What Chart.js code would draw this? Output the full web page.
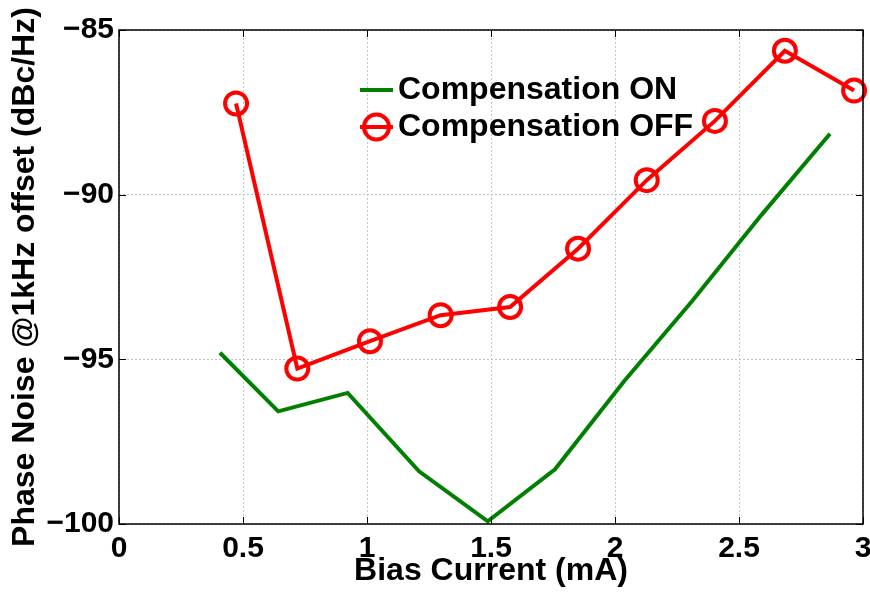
<!DOCTYPE html>
<html>
<head>
<meta charset="utf-8">
<script src="https://cdn.jsdelivr.net/npm/chart.js@4.4.1/dist/chart.umd.min.js"></script>
<style>
  html, body { margin: 0; padding: 0; background: #fff; }
  #grafica { display: block; }
</style>
</head>
<body>
<canvas id="grafica" width="870" height="596"></canvas>
<script>
// --- DATOS ---
const xOn  = [0.407, 0.642, 0.922, 1.210, 1.487, 1.758, 2.035, 2.312, 2.590, 2.867];
const yOn  = [-94.80, -96.58, -96.02, -98.40, -99.92, -98.34, -95.68, -93.22, -90.62, -88.15];
const xOff = [0.472, 0.719, 1.012, 1.297, 1.577, 1.851, 2.128, 2.403, 2.685, 2.964];
const yOff = [-87.23, -95.28, -94.45, -93.66, -93.41, -91.64, -89.56, -87.76, -85.63, -86.84];

const xTicks = [0, 0.5, 1, 1.5, 2, 2.5, 3];
const yTicks = [-100, -95, -90, -85];

const labelOn = "Compensation ON";
const labelOff = "Compensation OFF";
const xTitle = "Bias Current (mA)";
const yTitle = "Phase Noise @1kHz offset (dBc/Hz)";

const FONT = "'Liberation Sans', Arial, sans-serif";
const VERDE = "#008000";
const ROJO = "#ff0000";

function puntos(xs, ys) {
    return xs.map((x, i) => ({ x: x, y: ys[i] }));
}

// --- SIN RELLENO EXTRA POR LAS ETIQUETAS DE LOS EXTREMOS ---
const sinPaddingPlugin = {
    id: "sinPadding",
    beforeLayout(chart) {
        Object.values(chart.scales).forEach(s => {
            s.getPadding = () => ({ left: 0, top: 0, right: 0, bottom: 0 });
        });
    }
};

// --- CAJA Y MARCAS (estilo MATLAB) ---
const cajaPlugin = {
    id: "caja",
    afterDraw(chart) {
        const { ctx, chartArea: a, scales } = chart;
        ctx.save();
        ctx.strokeStyle = "#000";
        ctx.lineWidth = 1.5;
        ctx.strokeRect(a.left, a.top, a.right - a.left, a.bottom - a.top);
        const L = 7;
        ctx.lineWidth = 1;
        ctx.beginPath();
        xTicks.forEach(v => {
            const px = Math.round(scales.x.getPixelForValue(v)) + 0.5;
            ctx.moveTo(px, a.bottom); ctx.lineTo(px, a.bottom - L);
            ctx.moveTo(px, a.top); ctx.lineTo(px, a.top + L);
        });
        yTicks.forEach(v => {
            const py = Math.round(scales.y.getPixelForValue(v)) + 0.5;
            ctx.moveTo(a.left, py); ctx.lineTo(a.left + L, py);
            ctx.moveTo(a.right, py); ctx.lineTo(a.right - L, py);
        });
        ctx.stroke();
        ctx.restore();
    }
};

// --- LEYENDA DENTRO DEL GRÁFICO ---
const leyendaPlugin = {
    id: "leyendaDentro",
    afterDraw(chart) {
        const ctx = chart.ctx;
        const x0 = 360, x1 = 393, xt = 398;
        const filas = [
            { y: 90, ds: chart.data.datasets[0] },
            { y: 127, ds: chart.data.datasets[1] }
        ];
        ctx.save();
        filas.forEach(f => {
            ctx.strokeStyle = f.ds.borderColor;
            ctx.lineWidth = 4;
            ctx.beginPath();
            ctx.moveTo(x0, f.y); ctx.lineTo(x1, f.y);
            ctx.stroke();
            if (f.ds.pointRadius > 0) {
                ctx.beginPath();
                ctx.arc((x0 + x1) / 2, f.y, 12.5, 0, Math.PI * 2);
                ctx.stroke();
            }
            ctx.fillStyle = "#000";
            ctx.font = "bold 32px " + FONT;
            ctx.textBaseline = "middle";
            ctx.textAlign = "left";
            ctx.fillText(f.ds.label, xt, f.y);
        });
        ctx.restore();
    }
};

const menos = v => String(v).replace("-", "\u2212");

new Chart(document.getElementById("grafica"), {
    type: "line",
    data: {
        datasets: [{
            label: labelOn,
            data: puntos(xOn, yOn),
            borderColor: VERDE,
            backgroundColor: VERDE,
            borderWidth: 4,
            pointRadius: 0,
            tension: 0,
            clip: false
        }, {
            label: labelOff,
            data: puntos(xOff, yOff),
            borderColor: ROJO,
            backgroundColor: "rgba(0,0,0,0)",
            borderWidth: 4,
            pointRadius: 11,
            pointBorderWidth: 4,
            pointBorderColor: ROJO,
            pointBackgroundColor: "rgba(0,0,0,0)",
            tension: 0,
            clip: false
        }]
    },
    options: {
        responsive: false,
        animation: false,
        devicePixelRatio: 1,
        layout: { autoPadding: false, padding: { left: 6, right: 7, top: 30, bottom: 6 } },
        plugins: {
            legend: { display: false },
            tooltip: { enabled: false }
        },
        scales: {
            x: {
                type: "linear",
                min: 0, max: 3,
                afterBuildTicks: s => { s.ticks = xTicks.map(v => ({ value: v })); },
                afterFit: s => { s.height = 66; },
                grid: { color: "#c4c4c4", drawTicks: false, lineWidth: 1 },
                border: { display: false, dash: [2, 2] },
                ticks: {
                    padding: 7,
                    color: "#000",
                    font: { family: FONT, size: 30, weight: "bold" },
                    callback: v => menos(v),
                    maxRotation: 0
                },
                title: {
                    display: true,
                    text: xTitle,
                    color: "#000",
                    font: { family: FONT, size: 32, weight: "bold", lineHeight: 1.2 },
                    padding: 0
                }
            },
            y: {
                type: "linear",
                min: -100, max: -85,
                afterBuildTicks: s => { s.ticks = yTicks.map(v => ({ value: v })); },
                afterFit: s => { s.width = 113; },
                grid: { color: "#c4c4c4", drawTicks: false, lineWidth: 1 },
                border: { display: false, dash: [2, 2] },
                ticks: {
                    padding: 5,
                    color: "#000",
                    font: { family: FONT, size: 30, weight: "bold" },
                    callback: v => menos(v)
                },
                title: {
                    display: true,
                    text: yTitle,
                    color: "#000",
                    font: { family: FONT, size: 32, weight: "bold", lineHeight: 1.2 },
                    padding: 0
                }
            }
        }
    },
    plugins: [sinPaddingPlugin, cajaPlugin, leyendaPlugin]
});
</script>
</body>
</html>
